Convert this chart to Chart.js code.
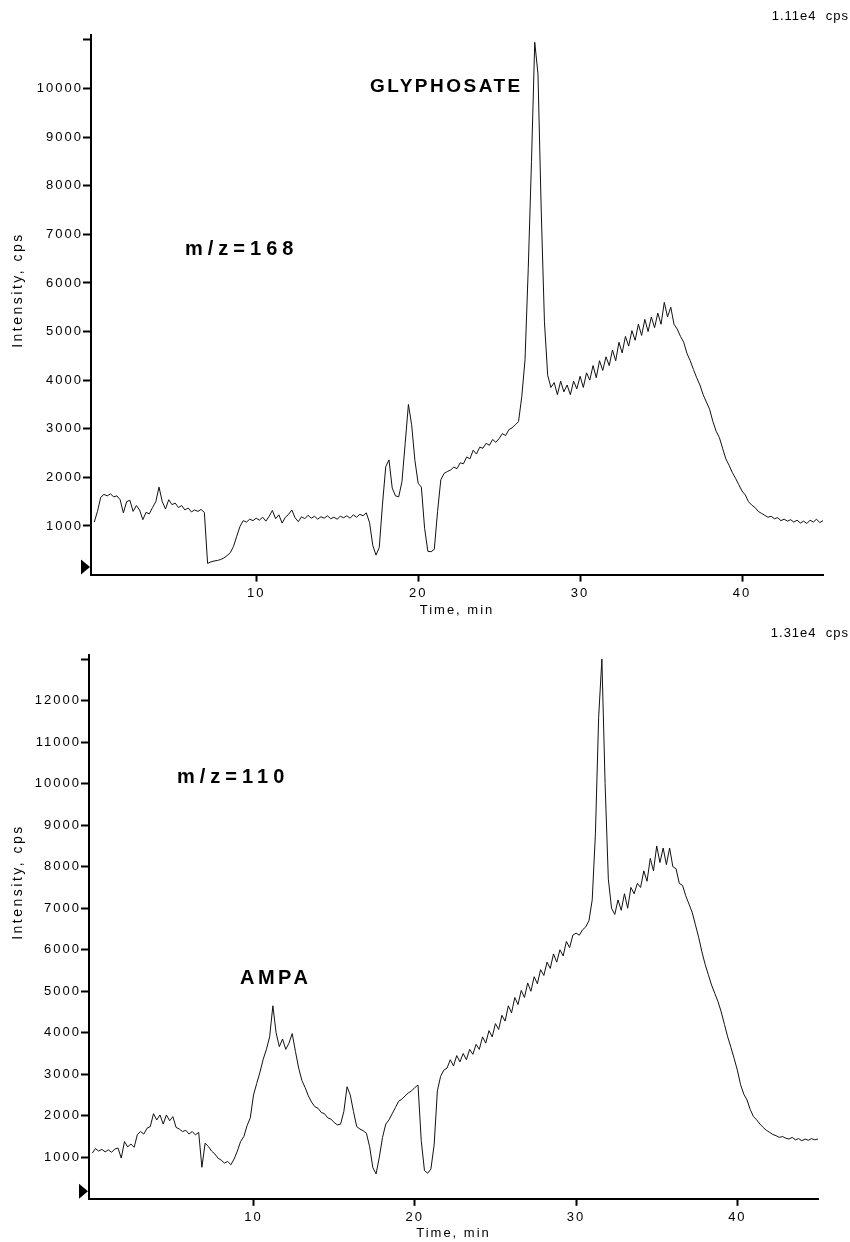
<!DOCTYPE html>
<html>
<head>
<meta charset="utf-8">
<script src="https://cdn.jsdelivr.net/npm/chart.js@4/dist/chart.umd.min.js"></script>
<style>
  body { margin: 0; background: #fff; }
  canvas { display: block; }
</style>
</head>
<body>
<canvas id="top" width="850" height="621"></canvas>
<canvas id="bottom" width="850" height="621"></canvas>
<script>
// sampling interval of the traces, min (one value every 0.2 min from 0 to 45)
const STEP = 0.2;
const timeTicks = [10, 20, 30, 40];

// m/z = 168 (glyphosate), cps
const glyphosate168 = [
  1080, 1300, 1590, 1650, 1620, 1660, 1600, 1620, 1540, 1270,
  1500, 1530, 1300, 1420, 1330, 1130, 1280, 1250, 1380, 1500,
  1800, 1500, 1350, 1540, 1440, 1470, 1380, 1420, 1330, 1370,
  1290, 1330, 1300, 1340, 1280, 230, 260, 280, 290, 310,
  340, 390, 450, 580, 790, 990, 1110, 1080, 1140, 1110,
  1160, 1120, 1180, 1100, 1200, 1320, 1150, 1230, 1060, 1180,
  1240, 1330, 1170, 1090, 1190, 1150, 1220, 1160, 1200, 1140,
  1190, 1160, 1210, 1150, 1180, 1140, 1200, 1170, 1210, 1160,
  1230, 1180, 1240, 1210, 1270, 1070, 600, 400, 560, 1450,
  2220, 2360, 1780, 1620, 1600, 1910, 2700, 3500, 3080, 2350,
  1880, 1800, 950, 480, 470, 520, 1300, 1950, 2080, 2120,
  2150, 2210, 2180, 2300, 2280, 2420, 2380, 2560, 2480, 2620,
  2600, 2700, 2660, 2780, 2720, 2800, 2900, 2860, 2980, 3020,
  3080, 3150, 3660, 4420, 6300, 8500, 10950, 10300, 7500, 5200,
  4100, 3850, 3950, 3700, 3980, 3760, 3900, 3700, 3980, 3820,
  4080, 3850, 4150, 4000, 4300, 4050, 4400, 4200, 4480, 4300,
  4620, 4400, 4780, 4560, 4900, 4700, 5020, 4820, 5150, 4920,
  5250, 5000, 5300, 5080, 5380, 5150, 5600, 5300, 5500, 5150,
  5050, 4900, 4780, 4550, 4400, 4220, 4050, 3900, 3700, 3550,
  3400, 3150, 2950, 2820, 2600, 2380, 2250, 2100, 1980, 1850,
  1720, 1640, 1500, 1430, 1380, 1300, 1260, 1220, 1180, 1200,
  1150, 1170, 1110, 1140, 1100, 1130, 1080, 1120, 1060, 1100,
  1050, 1120, 1080, 1140, 1070, 1110
];

// m/z = 110 (AMPA), cps
const ampa110 = [
  1100, 1210, 1150, 1190, 1130, 1180, 1120, 1200, 1220, 980,
  1380, 1250, 1320, 1240, 1550, 1620, 1560, 1700, 1740, 2050,
  1900, 2020, 1800, 2020, 1880, 1980, 1720, 1680, 1620, 1650,
  1560, 1620, 1540, 1600, 760, 1340, 1260, 1150, 1080, 980,
  930, 860, 900, 820, 960, 1150, 1380, 1500, 1760, 1950,
  2500, 2780, 3050, 3360, 3600, 3900, 4650, 4000, 3665, 3850,
  3600, 3750, 3980, 3550, 3150, 2850, 2680, 2480, 2330, 2220,
  2180, 2080, 2050, 1950, 1920, 1840, 1780, 1800, 2100, 2700,
  2500, 2100, 1740, 1680, 1640, 1580, 1255, 750, 600, 1000,
  1480, 1800, 1900, 2050, 2200, 2350, 2400, 2480, 2550, 2600,
  2680, 2740, 1400, 680, 615, 720, 1300, 2600, 2950, 3100,
  3150, 3350, 3200, 3450, 3300, 3500, 3350, 3600, 3480, 3720,
  3600, 3900, 3750, 4050, 3900, 4220, 4080, 4420, 4280, 4650,
  4480, 4850, 4680, 5020, 4850, 5200, 5000, 5350, 5180, 5520,
  5380, 5700, 5550, 5900, 5700, 6000, 5850, 6200, 6050, 6350,
  6400, 6350, 6480, 6550, 6700, 7200, 8800, 11600, 13000, 10000,
  7700, 7000, 6850, 7200, 6950, 7350, 7000, 7500, 7350, 7600,
  7500, 7900, 7650, 8200, 7900, 8500, 8100, 8450, 8050, 8450,
  8000, 7950, 7600, 7550, 7300, 7100, 6900, 6600, 6300, 5950,
  5650, 5400, 5150, 4950, 4750, 4500, 4200, 3900, 3650, 3380,
  3100, 2750, 2520, 2380, 2150, 1980, 1900, 1800, 1720, 1650,
  1600, 1550, 1520, 1480, 1500, 1460, 1440, 1480, 1420, 1450,
  1400, 1440, 1410, 1450, 1420, 1440
];

const topYTicks = [1000, 2000, 3000, 4000, 5000, 6000, 7000, 8000, 9000, 10000, 11000];
const bottomYTicks = [1000, 2000, 3000, 4000, 5000, 6000, 7000, 8000, 9000, 10000, 11000, 12000, 13000];

const FONT = '"Liberation Sans", Arial, sans-serif';

// text notes, scale marker and y title drawn on top of each trace
const notesPlugin = {
  id: 'notes',
  beforeDraw(chart) {
    chart.ctx.letterSpacing = '2px';
  },
  afterDraw(chart) {
    const n = chart.options.plugins.notes;
    const ctx = chart.ctx;
    const a = chart.chartArea;
    ctx.save();
    ctx.fillStyle = '#000';

    // start marker
    ctx.beginPath();
    ctx.moveTo(a.left - 10, a.bottom - 15);
    ctx.lineTo(a.left - 1, a.bottom - 7.5);
    ctx.lineTo(a.left - 10, a.bottom);
    ctx.closePath();
    ctx.fill();

    ctx.textBaseline = 'middle';
    ctx.letterSpacing = '1px';
    ctx.font = '13px ' + FONT;
    ctx.textAlign = 'right';
    ctx.fillText(n.scaleText, 849, n.scaleY);

    ctx.textAlign = 'left';
    n.labels.forEach(l => {
      ctx.font = 'bold ' + l.size + 'px ' + FONT;
      ctx.letterSpacing = l.spacing + 'px';
      ctx.fillText(l.text, l.x, l.y);
    });

    ctx.translate(18, n.yTitleY);
    ctx.rotate(-Math.PI / 2);
    ctx.textAlign = 'center';
    ctx.letterSpacing = '2.5px';
    ctx.font = '14px ' + FONT;
    ctx.fillText('Intensity, cps', 0, 0);
    ctx.restore();
  }
};

function buildChart(id, values, yMax, yTicks, cfg) {
  const points = values.map((v, i) => ({ x: +(i * STEP).toFixed(1), y: v }));
  return new Chart(document.getElementById(id), {
    type: 'line',
    data: {
      datasets: [{
        data: points,
        borderColor: '#111',
        borderWidth: 1,
        pointRadius: 0,
        tension: 0,
        fill: false
      }]
    },
    plugins: [notesPlugin],
    options: {
      responsive: false,
      animation: false,
      devicePixelRatio: 1,
      layout: { padding: { left: 0, top: cfg.top, right: cfg.right, bottom: 0 } },
      plugins: {
        legend: { display: false },
        tooltip: { enabled: false },
        notes: cfg.notes
      },
      scales: {
        x: {
          type: 'linear',
          min: -0.2,
          max: 45,
          afterBuildTicks: s => { s.ticks = timeTicks.map(v => ({ value: v })); },
          afterFit: s => { s.height = cfg.xHeight; },
          border: { color: '#000', width: 2 },
          grid: { drawOnChartArea: false, tickLength: 7, tickWidth: 2, tickColor: '#000' },
          ticks: { color: '#000', font: { family: FONT, size: 13 }, padding: 4, autoSkip: false, maxRotation: 0 },
          title: {
            display: true,
            text: 'Time, min',
            color: '#000',
            font: { family: FONT, size: 13 },
            padding: { top: 0, bottom: cfg.xTitlePad }
          }
        },
        y: {
          min: 0,
          max: yMax,
          afterBuildTicks: s => { s.ticks = yTicks.map(v => ({ value: v })); },
          afterFit: s => { s.width = cfg.yWidth; },
          border: { color: '#000', width: 2 },
          grid: { drawOnChartArea: false, tickLength: 8, tickWidth: 2, tickColor: '#000' },
          ticks: {
            color: '#000',
            font: { family: FONT, size: 13 },
            padding: 0,
            callback: v => (v === yTicks[yTicks.length - 1] ? '' : String(v))
          }
        }
      }
    }
  });
}

buildChart('top', glyphosate168, 11100, topYTicks, {
  top: 35, right: 27, xHeight: 46.4, yWidth: 91, xTitlePad: 3,
  notes: {
    scaleText: '1.11e4  cps', scaleY: 16, yTitleY: 290,
    labels: [
      { text: 'm/z=168', x: 185, y: 249, size: 20, spacing: 5 },
      { text: 'GLYPHOSATE', x: 370, y: 87, size: 19, spacing: 2.5 }
    ]
  }
});

buildChart('bottom', ampa110, 13100, bottomYTicks, {
  top: 34, right: 32, xHeight: 43.2, yWidth: 89, xTitlePad: 1,
  notes: {
    scaleText: '1.31e4  cps', scaleY: 12, yTitleY: 261,
    labels: [
      { text: 'm/z=110', x: 177, y: 156, size: 20, spacing: 5 },
      { text: 'AMPA', x: 240, y: 357, size: 20, spacing: 3.5 }
    ]
  }
});
</script>
</body>
</html>
